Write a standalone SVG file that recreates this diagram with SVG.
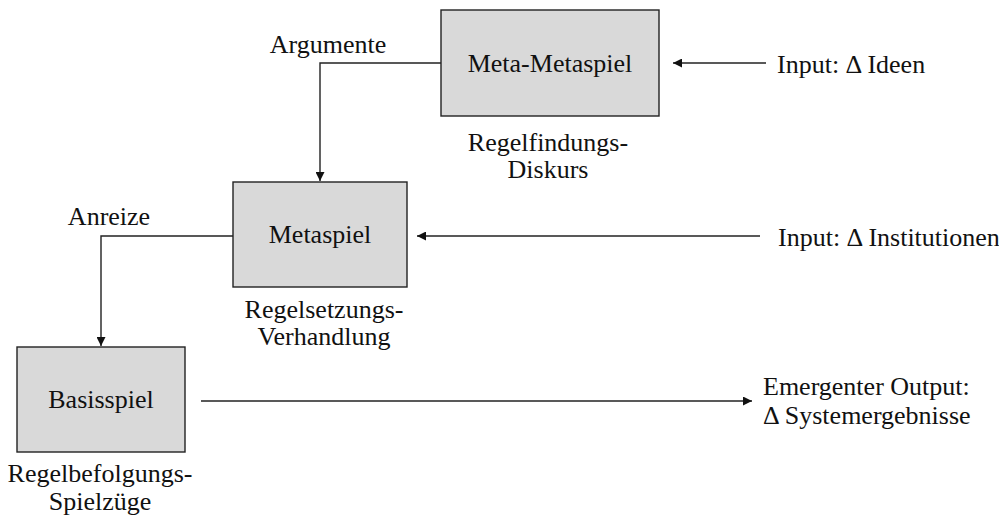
<svg xmlns="http://www.w3.org/2000/svg" width="999" height="519" viewBox="0 0 999 519">
<defs>
<style>
.box{fill:#d9d9d9;stroke:#222;stroke-width:1.4}
.t{font-family:'Liberation Serif','Times New Roman','DejaVu Serif',serif;font-size:26px;fill:#111}
.c{text-anchor:middle}
.ln{fill:none;stroke:#222;stroke-width:1.4}
</style>
<marker id="ah" viewBox="0 0 10 10" refX="10" refY="5" markerWidth="9" markerHeight="9" markerUnits="userSpaceOnUse" orient="auto">
<path d="M0,0 L10,5 L0,10 z" fill="#111"/>
</marker>
</defs>
<rect width="999" height="519" fill="#fff"/>
<g id="connectors">
<path class="ln" d="M441,63 H320 V181" marker-end="url(#ah)"/>
<path class="ln" d="M233,236 H101 V346" marker-end="url(#ah)"/>
<path class="ln" d="M766,63 H673" marker-end="url(#ah)"/>
<path class="ln" d="M760,236 H417" marker-end="url(#ah)"/>
<path class="ln" d="M201,401 H752" marker-end="url(#ah)"/>
<text class="t c" x="328" y="53">Argumente</text>
<text class="t c" x="109" y="225">Anreize</text>
</g>
<g id="meta-metaspiel">
<rect class="box" x="441" y="10" width="218" height="106"/>
<text class="t c" x="550" y="72">Meta-Metaspiel</text>
<text class="t c" x="548" y="151">Regelfindungs-</text>
<text class="t c" x="548" y="178">Diskurs</text>
</g>
<g id="metaspiel">
<rect class="box" x="233" y="182" width="174" height="105"/>
<text class="t c" x="320" y="243">Metaspiel</text>
<text class="t c" x="324" y="318">Regelsetzungs-</text>
<text class="t c" x="324" y="345">Verhandlung</text>
</g>
<g id="basisspiel">
<rect class="box" x="17" y="347" width="168" height="105"/>
<text class="t c" x="101" y="408">Basisspiel</text>
<text class="t c" x="100" y="482">Regelbefolgungs-</text>
<text class="t c" x="100" y="510">Spielzüge</text>
</g>
<g id="input-ideen">
<text class="t" x="777" y="73">Input: Δ Ideen</text>
</g>
<g id="input-institutionen">
<text class="t" x="778" y="246">Input: Δ Institutionen</text>
</g>
<g id="output">
<text class="t" x="763" y="395">Emergenter Output:</text>
<text class="t" x="763" y="424">Δ Systemergebnisse</text>
</g>
</svg>
